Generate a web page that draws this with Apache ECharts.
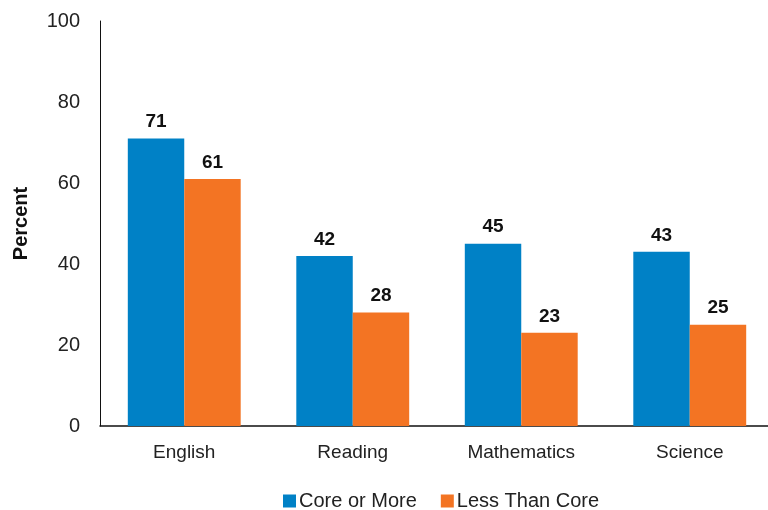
<!DOCTYPE html>
<html><head><meta charset="utf-8">
<script src="https://cdn.jsdelivr.net/npm/echarts@6/dist/echarts.min.js"></script>
<style>html,body{margin:0;padding:0;background:#fff;overflow:hidden;width:768px;height:510px}#c{width:776px;height:510px}</style>
</head><body><div id="c"></div>
<script>
const categories = ["English", "Reading", "Mathematics", "Science"];
const coreOrMore = [71, 42, 45, 43];
const lessThanCore = [61, 28, 23, 25];
const yTicks = [0, 20, 40, 60, 80, 100];
const seriesNames = ["Core or More", "Less Than Core"];
const FONT = '"Liberation Sans", Arial, Helvetica, sans-serif';
const chart = echarts.init(document.getElementById('c'), null, {renderer: 'canvas'});
const labelStyle = {show: true, position: 'top', distance: 7, color: '#111', fontWeight: 'bold', fontSize: 19, fontFamily: FONT};
chart.setOption({
  animation: false,
  textStyle: {fontFamily: FONT},
  grid: {left: 100, top: 21, width: 674, height: 405},
  legend: {
    data: seriesNames, top: 491, left: 283, padding: 0, itemWidth: 13, itemHeight: 13, itemGap: 24,
    icon: 'rect', textStyle: {fontSize: 20, color: '#222', fontFamily: FONT, padding: [0, 0, 0, -2]}
  },
  xAxis: {
    type: 'category', data: categories,
    axisLine: {lineStyle: {color: '#111', width: 1.5}},
    axisTick: {show: false},
    axisLabel: {fontSize: 19, color: '#222', margin: 17, fontFamily: FONT}
  },
  yAxis: {
    type: 'value', min: yTicks[0], max: yTicks[yTicks.length - 1], interval: 20,
    name: 'Percent', nameLocation: 'middle', nameGap: 69, nameRotate: 90,
    nameTextStyle: {fontSize: 20, fontWeight: 'bold', color: '#111', fontFamily: FONT},
    axisLine: {show: true, lineStyle: {color: '#111', width: 1}},
    axisTick: {show: false},
    splitLine: {show: false},
    axisLabel: {fontSize: 20, color: '#222', margin: 20, fontFamily: FONT}
  },
  series: [
    {name: seriesNames[0], type: 'bar', data: coreOrMore, barGap: '0%', barCategoryGap: '33%',
     itemStyle: {color: '#0081c6'}, label: labelStyle},
    {name: seriesNames[1], type: 'bar', data: lessThanCore, barGap: '0%', barCategoryGap: '33%',
     itemStyle: {color: '#f37423'}, label: labelStyle}
  ]
});
</script></body></html>
